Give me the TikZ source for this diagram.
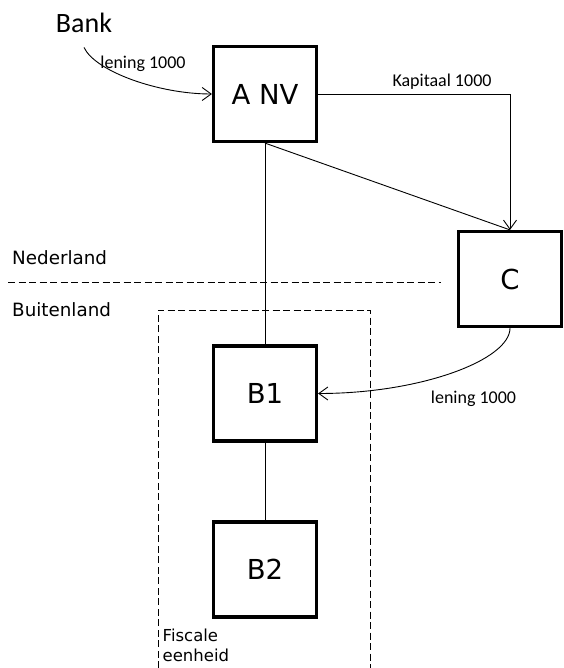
\documentclass[tikz,border=0pt]{standalone}
\usepackage{fontspec}
\setmainfont{DejaVu Sans}
\newfontfamily\calibri{Carlito}
\usetikzlibrary{arrows.meta}
\tikzset{
	box/.style={draw, line width=3.2pt, minimum width=103pt, minimum height=95pt, inner sep=0pt, font=\fontsize{27.5}{30}\selectfont},
	thin/.style={line width=0.9pt},
	arr/.style={thin, -{Straight Barb[length=9pt,width=13pt,line width=0.9pt]}},
	dashline/.style={line width=0.9pt, dash pattern=on 7pt off 3.5pt},
	lbl/.style={inner sep=0pt, font=\fontsize{18.3}{22}\selectfont},
	small/.style={inner sep=0pt, font=\calibri\fontsize{18}{20}\selectfont},
}

\begin{document}
\begin{tikzpicture}[x=1pt,y=-1pt]
		%%%%% START %%%%%
		\useasboundingbox (0,0) rectangle (563,668);
		
		\node[box] (anv) at (265, 94) {A NV};
		\node[box] (c) at (510, 279) {C};
		\node[box] (b1) at (265, 393.5) {B1};
		\node[box] (b2) at (265, 569.5) {B2};
		
		\node[inner xsep=0pt, inner ysep=14pt, anchor=base, font=\calibri\fontsize{28}{30}\selectfont] (bank) at (84, 33) {Bank};
		\draw[arr] (bank.south) to[out=-65, in=180, out looseness=0.5] (anv.west);
		\node[small, anchor=base] (lening1) at (143, 69) {lening 1000};
		
		\draw[arr] (anv.east) -| (c.north);
		\node[small, anchor=base] (kapitaal) at (442, 87) {Kapitaal 1000};
		\draw[thin] (anv.south) -- (c.north);
		
		\draw[thin] (anv.south) -- (b1.north);
		\draw[thin] (b1.south) -- (b2.north);
		
		\draw[arr] (c.south) to[out=-90, in=0, out looseness=0.4, in looseness=1.3] (b1.east);
		\node[small, anchor=base] (lening2) at (473.5, 403) {lening 1000};
		
		% border NL
		\draw[dashline] (8, 282.5) -- (441, 282.5);
		\node[lbl, anchor=base west] (nl) at (12, 264) {Nederland};
		\node[lbl, anchor=base west] (bl) at (12, 316) {Buitenland};
		
		% fiscale eenheid
		\draw[dashline] (158, 668) -- (158, 310) -- (370, 310) -- (370, 668);
		\node[inner sep=0pt, anchor=north west, align=left, font=\fontsize{16.5}{20}\selectfont] (fe) at (162.5, 629) {Fiscale\\eenheid};
		
		%%%%% END %%%%%
	\end{tikzpicture}
\end{document}
